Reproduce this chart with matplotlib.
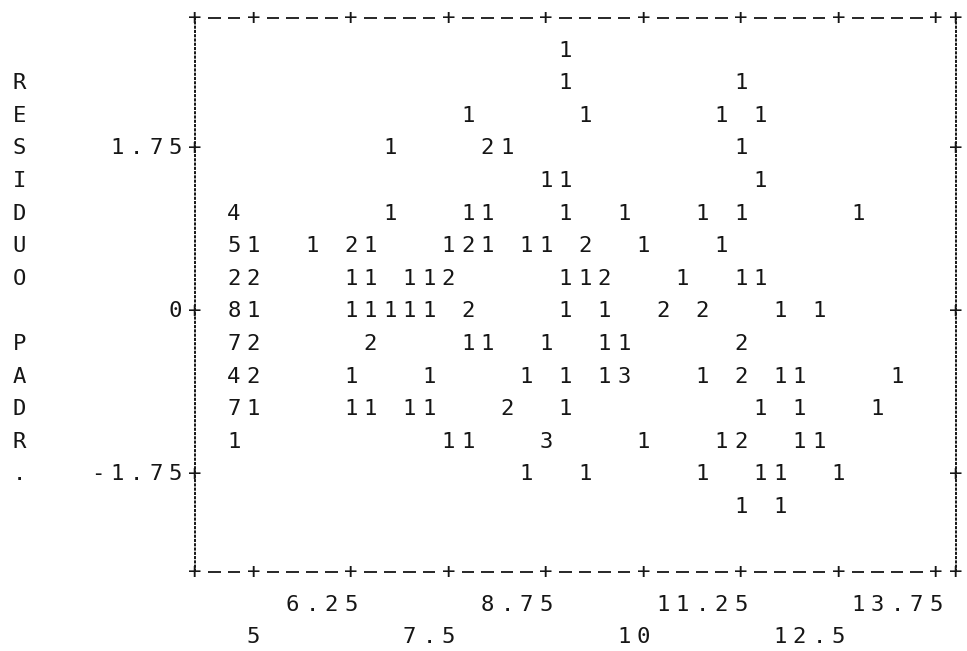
import matplotlib
matplotlib.use("Agg")
import matplotlib.pyplot as plt

# character plot: fitted value vs standardized residual,
# digit = number of observations falling in that print cell
fit = [9.0,
       9.0, 11.25,
       7.75, 9.25, 11.0, 11.5,
       6.75, 8.0, 8.25, 11.25,
       8.75, 9.0, 11.5,
       4.75, 6.75, 7.75, 8.0, 9.0, 9.75, 10.75, 11.25, 12.75,
       4.75, 5.0, 5.75, 6.25, 6.5, 7.5, 7.75, 8.0, 8.5, 8.75, 9.25, 10.0, 11.0,
       4.75, 5.0, 6.25, 6.5, 7.0, 7.25, 7.5, 9.0, 9.25, 9.5, 10.5, 11.25, 11.5,
       4.75, 5.0, 6.25, 6.5, 6.75, 7.0, 7.25, 7.75, 9.0, 9.5, 10.25, 10.75, 11.75, 12.25,
       4.75, 5.0, 6.5, 7.75, 8.0, 8.75, 9.5, 9.75, 11.25,
       4.75, 5.0, 6.25, 7.25, 8.5, 9.0, 9.5, 9.75, 10.75, 11.25, 11.75, 12.0, 13.25,
       4.75, 5.0, 6.25, 6.5, 7.0, 7.25, 8.25, 9.0, 11.5, 12.0, 13.0,
       4.75, 7.5, 7.75, 8.75, 10.0, 11.0, 11.25, 12.0, 12.25,
       8.5, 9.25, 10.75, 11.5, 11.75, 12.5,
       11.25, 11.75]
resid = [2.8,
         2.45, 2.45,
         2.1, 2.1, 2.1, 2.1,
         1.75, 1.75, 1.75, 1.75,
         1.4, 1.4, 1.4,
         1.05, 1.05, 1.05, 1.05, 1.05, 1.05, 1.05, 1.05, 1.05,
         0.7, 0.7, 0.7, 0.7, 0.7, 0.7, 0.7, 0.7, 0.7, 0.7, 0.7, 0.7, 0.7,
         0.35, 0.35, 0.35, 0.35, 0.35, 0.35, 0.35, 0.35, 0.35, 0.35, 0.35, 0.35, 0.35,
         0, 0, 0, 0, 0, 0, 0, 0, 0, 0, 0, 0, 0, 0,
         -0.35, -0.35, -0.35, -0.35, -0.35, -0.35, -0.35, -0.35, -0.35,
         -0.7, -0.7, -0.7, -0.7, -0.7, -0.7, -0.7, -0.7, -0.7, -0.7, -0.7, -0.7, -0.7,
         -1.05, -1.05, -1.05, -1.05, -1.05, -1.05, -1.05, -1.05, -1.05, -1.05, -1.05,
         -1.4, -1.4, -1.4, -1.4, -1.4, -1.4, -1.4, -1.4, -1.4,
         -1.75, -1.75, -1.75, -1.75, -1.75, -1.75,
         -2.1, -2.1]
count = [1,
         1, 1,
         1, 1, 1, 1,
         1, 2, 1, 1,
         1, 1, 1,
         4, 1, 1, 1, 1, 1, 1, 1, 1,
         5, 1, 1, 2, 1, 1, 2, 1, 1, 1, 2, 1, 1,
         2, 2, 1, 1, 1, 1, 2, 1, 1, 2, 1, 1, 1,
         8, 1, 1, 1, 1, 1, 1, 2, 1, 1, 2, 2, 1, 1,
         7, 2, 2, 1, 1, 1, 1, 1, 2,
         4, 2, 1, 1, 1, 1, 1, 3, 1, 2, 1, 1, 1,
         7, 1, 1, 1, 1, 1, 2, 1, 1, 1, 1,
         1, 1, 1, 3, 1, 1, 2, 1, 1,
         1, 1, 1, 1, 1, 1,
         1, 1]

xticks = [5, 6.25, 7.5, 8.75, 10, 11.25, 12.5, 13.75]
yticks = [1.75, 0, -1.75]
ylabel = "RESIDUO PADR."

# print grid: one column = 0.25 on x, one line = 0.35 on y
dx = (xticks[1] - xticks[0]) / 5
dy = (yticks[0] - yticks[1]) / 5
x_lo, x_hi = xticks[0] - 3 * dx, xticks[-1] + dx
y_hi, y_lo = yticks[0] + 4 * dy, yticks[-1] - 3 * dy

ink = "#161616"
font = dict(family="DejaVu Sans Mono", fontsize=16, color=ink,
            ha="center", va="center")

fig = plt.figure(figsize=(9.67, 6.51), dpi=100)
ax = fig.add_axes([0, 0, 1, 1])
ax.set_xlim(x_lo - 195 / 78, x_lo + (967 - 195) / 78)
ax.set_ylim(-(651 - 311.4) / 93.14, 311.4 / 93.14)
ax.axis("off")


def put(s, x_end, y):
    # place a string one character per print column, right aligned
    for i, ch in enumerate(s):
        ax.text(x_end - dx * (len(s) - 1 - i), y, ch, **font)


# frame: dotted verticals, dashes and + along top/bottom
for xv in (x_lo, x_hi):
    ax.plot([xv, xv], [y_lo, y_hi], color=ink, lw=1.4,
            linestyle=(0, (1.6, 0.6)))

ncol = int(round((x_hi - x_lo) / dx))
tick_cols = [int(round((t - x_lo) / dx)) for t in xticks] + [0, ncol]
dash_x = [x_lo + c * dx for c in range(ncol + 1) if c not in tick_cols]
for yv in (y_lo, y_hi):
    ax.hlines([yv] * len(dash_x), [x - 0.33 * dx for x in dash_x],
              [x + 0.33 * dx for x in dash_x], color=ink, lw=1.3)
    for c in tick_cols:
        ax.text(x_lo + c * dx, yv, "+", **font)

for yv in yticks:
    ax.text(x_lo, yv, "+", **font)
    ax.text(x_hi, yv, "+", **font)
    put("%g" % yv, x_lo - dx, yv)

for i, t in enumerate(xticks):
    yrow = y_lo - dy if i % 2 else y_lo - 2 * dy
    put("%g" % t, t, yrow)

for i, ch in enumerate(ylabel):
    ax.text(x_lo - 9 * dx, yticks[0] + 2 * dy - i * dy, ch, **font)

for x, y, n in zip(fit, resid, count):
    ax.text(x, y, str(n), **font)

fig.savefig("out.png", dpi=100, facecolor="white")
